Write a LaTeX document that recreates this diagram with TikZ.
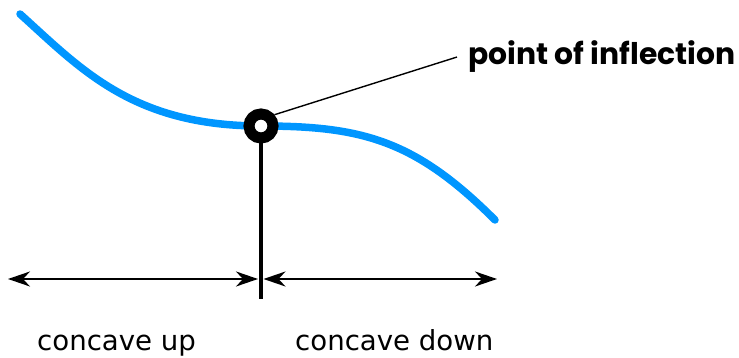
\documentclass[tikz,border=0pt]{standalone}
\usepackage{fontspec}
\usepackage{tikz}
\usetikzlibrary{arrows.meta,positioning,calc}

\newfontfamily\axisfont{DejaVu Sans}
\newfontfamily\calloutfont{Poppins}

\definecolor{curveblue}{RGB}{0,150,255}

\begin{document}
\begin{tikzpicture}[
    x=1pt,
    y=-1pt,
    curve/.style={
        draw=curveblue,
        line width=7.5pt,
        line cap=round
    },
    inflection/.style={
        circle,
        draw=black,
        fill=white,
        line width=11pt,
        minimum size=24pt,
        inner sep=0pt
    },
    callout/.style={
        font=\calloutfont\bfseries\fontsize{29.8}{33}\selectfont,
        inner xsep=11pt,
        inner ysep=0pt
    },
    region/.style={
        font=\axisfont\fontsize{27.6}{32}\selectfont,
        inner sep=0pt
    },
    leader/.style={
        draw=black,
        line width=1.4pt
    },
    divider/.style={
        draw=black,
        line width=3.5pt
    },
    span/.style={
        draw=black,
        line width=2.2pt,
        >={Stealth[length=22pt,width=15pt,inset=7pt]},
        <->
    }
]

\useasboundingbox (0,0) rectangle (739,358);

% ============================================================
% Curve
% ============================================================

\coordinate (cstart) at (20,14);
\coordinate (cmid) at (261,126);
\coordinate (cend) at (495,220);

\draw[curve]
(cstart) .. controls (80,68) and (132,126) .. (cmid)
         .. controls (362,126) and (415,140) .. (cend);

% ============================================================
% Point of inflection
% ============================================================

\node[inflection] (ip) at (cmid) {};

\node[callout, anchor=base west] (iplabel) at (457,65)
{point of inflection};

\draw[leader]
(ip.40) -- (iplabel.west);

% ============================================================
% Concavity ranges
% ============================================================

\coordinate (lend) at (8,279);
\coordinate (rend) at (497,279);
\coordinate (cross) at (ip |- lend);
\coordinate (dividerbottom) at (261,299);

\draw[divider]
(ip.south) -- (dividerbottom);

\draw[span, shorten >=3pt]
(lend) -- (cross);

\draw[span, shorten <=2.5pt]
(cross) -- (rend);

\node[region, anchor=base west] (uplabel) at (37,350)
{concave up};

\node[region, anchor=base west] (downlabel) at (295,350)
{concave down};

\end{tikzpicture}
\end{document}
